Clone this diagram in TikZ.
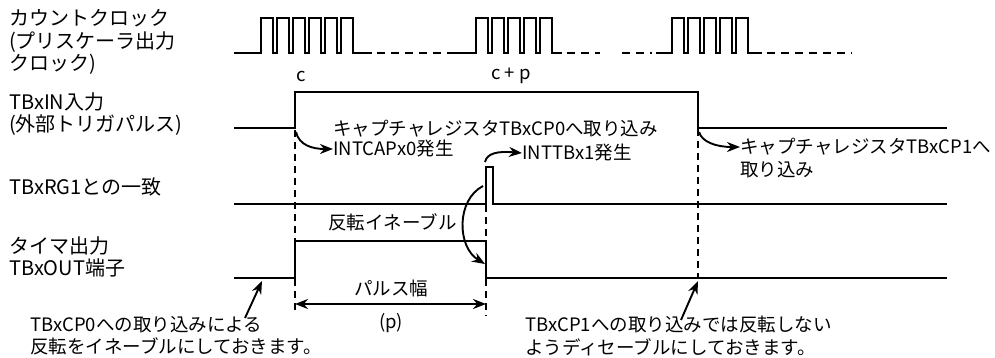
\documentclass[tikz,border=0pt]{standalone}
\usepackage{fontspec}
\setmainfont{Noto Sans CJK JP}
\usetikzlibrary{arrows.meta,positioning,calc}

\begin{document}
\begin{tikzpicture}[>=Stealth, x=1pt, y=-1pt,
    sig/.style={line width=2.4pt},
    gapline/.style={line width=2.4pt, dash pattern=on 8pt off 6pt},
    guide/.style={line width=1.4pt, dash pattern=on 7pt off 5pt},
    lbl/.style={font=\fontsize{20}{22.5}\selectfont, inner sep=0pt, align=left, anchor=west},
    note/.style={font=\fontsize{18.5}{22.5}\selectfont, inner sep=0pt, align=left, anchor=west},
    callout/.style={->, line width=1.9pt, >={Stealth[length=13pt,width=10pt]}}]
    \useasboundingbox (0,0) rectangle (995,358);

    % Signal names
    \node[lbl] (clkname) at (9,42) {カウントクロック\\(プリスケーラ出力\\クロック)};
    \node[lbl] (inname) at (9,114) {TBxIN入力\\(外部トリガパルス)};
    \node[lbl] (rgname) at (9,187) {TBxRG1との一致};
    \node[lbl] (outname) at (9,257) {タイマ出力\\TBxOUT端子};

    % Count clock
    \draw[sig] (234,53) -- (261,53)
        \foreach \k in {1,...,6} { -- ++(0,-35) -- ++(12,0) -- ++(0,35) -- ++(4,0) } -- (372,53);
    \draw[gapline] (377,53) -- (452,53);
    \draw[sig] (452,53) -- (476,53)
        \foreach \k in {1,...,5} { -- ++(0,-35) -- ++(12,0) -- ++(0,35) -- ++(4,0) } -- (562,53);
    \draw[gapline] (567,53) -- (600,53);
    \draw[gapline] (622,53) -- (652,53);
    \draw[sig] (656,53) -- (672,53)
        \foreach \k in {1,...,5} { -- ++(0,-35) -- ++(12,0) -- ++(0,35) -- ++(4,0) } -- (762,53);
    \draw[gapline] (767,53) -- (852,53);
    \node[note, anchor=center] (cval) at (301,76) {c};
    \node[note, anchor=center] (cpval) at (511,76) {c + p};

    % TBxIN, TBxRG1, TBxOUT
    \draw[sig] (234,128) -- (295,128) -- (295,92) -- (698,92) -- (698,128) -- (947,128);
    \draw[sig] (234,204) -- (486,204) -- (486,167) -- (493,167) -- (493,204) -- (947,204);
    \draw[sig] (234,278) -- (295,278) -- (295,241) -- (486,241) -- (486,278) -- (947,278);

    \coordinate (inrise) at (296,132);
    \coordinate (infall) at (699,132);
    \coordinate (rgtop) at (485,162);
    \coordinate (rgbase) at (483,186);
    \coordinate (outfall) at (485,264);
    \coordinate (outlow) at (262,281);
    \coordinate (outlow1) at (698,281);

    % Guide lines
    \draw[guide] (295,130) -- (295,241);
    \draw[guide] (295,279) -- (295,312);
    \draw[guide] (486,205) -- (486,241);
    \draw[guide] (486,279) -- (486,316);
    \draw[guide] (698,129) -- (698,278);

    % Pulse width
    \draw[<->, line width=1.9pt, >={Stealth[length=13pt,width=10pt]}] (295,304) -- (486,304);
    \node[note, anchor=center] (pw) at (391,288) {パルス幅};
    \node[note, anchor=center] (pval) at (391,323) {(p)};

    % Events
    \node[note] (cap0) at (333,129) {キャプチャレジスタTBxCP0へ取り込み};
    \node[note] (intcap) at (333,149) {INTCAPx0発生};
    \node[note] (inttb) at (522,153) {INTTBx1発生};
    \node[note] (rev) at (328,222) {反転イネーブル};
    \node[note] (cap1) at (740,158) {キャプチャレジスタTBxCP1へ\\取り込み};
    \node[note, anchor=north west] (en0) at (30,316) {TBxCP0への取り込みによる\\反転をイネーブルにしておきます。};
    \node[note, anchor=north west] (dis1) at (525,316) {TBxCP1への取り込みでは反転しない\\ようディセーブルにしておきます。};
    \coordinate (en0top) at (245,318);
    \coordinate (dis1top) at (681,320);

    \draw[callout] (inrise) .. controls (299,145) and (312,149) .. (intcap.west);
    \draw[callout] (rgtop) .. controls (487,153) and (498,151) .. (inttb.west);
    \draw[callout] (rgbase) .. controls (456,200) and (457,247) .. (outfall);
    \draw[callout] (infall) .. controls (702,142) and (716,147) .. ($(cap1.west)+(0,-11)$);
    \draw[callout] (en0top) -- (outlow);
    \draw[callout] (dis1top) -- (outlow1);
\end{tikzpicture}
\end{document}
